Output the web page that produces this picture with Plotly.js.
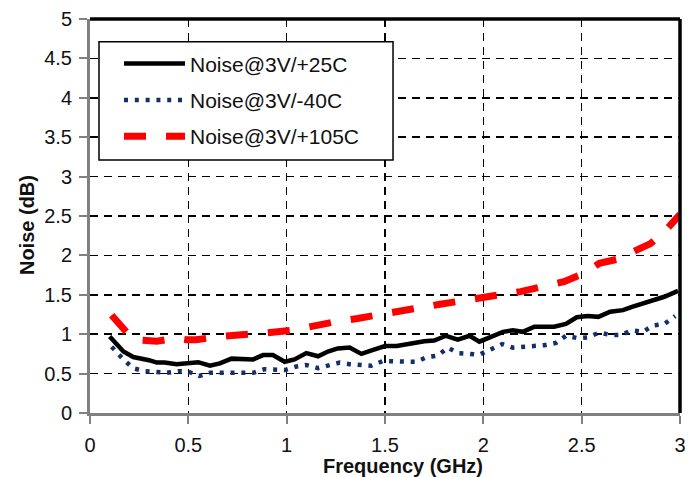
<!DOCTYPE html>
<html>
<head>
<meta charset="utf-8">
<script src="https://cdn.plot.ly/plotly-3.0.1.min.js"></script>
<style>html,body{margin:0;padding:0;background:#fff;}#chart{width:697px;height:477px;}</style>
</head>
<body>
<div id="chart"></div>
<script>
// ---- data ----
const seriesNames = ["Noise@3V/+25C", "Noise@3V/-40C", "Noise@3V/+105C"];

const freq25 = [0.10,0.17,0.22,0.25,0.30,0.34,0.38,0.44,0.49,0.55,0.61,0.66,0.72,0.77,0.83,0.88,0.93,0.99,1.04,1.10,1.16,1.21,1.26,1.32,1.38,1.44,1.50,1.56,1.645,1.70,1.75,1.81,1.87,1.93,1.98,2.04,2.10,2.15,2.20,2.26,2.31,2.36,2.42,2.475,2.53,2.585,2.645,2.71,2.76,2.83,2.88,2.92,2.99];
const noise25 = [0.97,0.78,0.71,0.70,0.67,0.64,0.64,0.62,0.63,0.645,0.60,0.63,0.69,0.68,0.68,0.735,0.735,0.65,0.68,0.76,0.72,0.78,0.82,0.83,0.75,0.80,0.85,0.85,0.89,0.91,0.92,0.98,0.93,0.98,0.905,0.97,1.03,1.05,1.03,1.095,1.095,1.095,1.13,1.215,1.23,1.22,1.285,1.305,1.35,1.41,1.44,1.475,1.55];

const freqM40 = [0.11,0.15,0.17,0.22,0.28,0.34,0.39,0.45,0.50,0.555,0.61,0.66,0.72,0.77,0.83,0.885,0.94,0.99,1.05,1.10,1.16,1.21,1.27,1.32,1.38,1.43,1.49,1.55,1.60,1.66,1.71,1.77,1.82,1.87,1.93,1.98,2.04,2.096,2.15,2.20,2.26,2.31,2.37,2.42,2.48,2.53,2.59,2.645,2.70,2.755,2.81,2.865,2.92,2.976];
const noiseM40 = [0.84,0.72,0.68,0.567,0.53,0.52,0.51,0.53,0.525,0.47,0.51,0.51,0.51,0.51,0.51,0.555,0.555,0.545,0.59,0.61,0.57,0.60,0.64,0.62,0.61,0.60,0.66,0.66,0.66,0.65,0.707,0.73,0.83,0.76,0.75,0.74,0.81,0.875,0.83,0.84,0.85,0.86,0.89,0.98,0.95,0.96,1.02,0.99,0.99,1.05,1.03,1.11,1.13,1.23];

const freq105 = [0.11,0.17,0.22,0.34,0.44,0.49,0.54,0.66,0.73,0.865,1.03,1.15,1.25,1.36,1.475,1.63,1.78,1.93,1.99,2.085,2.19,2.305,2.41,2.51,2.59,2.68,2.76,2.85,2.92,3.0];
const noise105 = [1.24,1.075,0.93,0.91,0.95,0.93,0.93,0.97,0.99,1.01,1.05,1.12,1.16,1.20,1.24,1.316,1.38,1.43,1.45,1.50,1.54,1.595,1.667,1.77,1.90,1.95,2.05,2.15,2.30,2.52];

const xTickVals = [0,0.5,1,1.5,2,2.5,3];
const yTickVals = [0,0.5,1,1.5,2,2.5,3,3.5,4,4.5,5];
const xTitle = "Frequency (GHz)";
const yTitle = "Noise (dB)";

// ---- chart ----
const FONT = "Liberation Sans, Arial, sans-serif";
const traces = [
  {x: freq25, y: noise25, name: seriesNames[0], legendgroup: "a", mode: "lines",
   line: {color: "#000000", width: 4.5}},
  {x: freqM40, y: noiseM40, name: seriesNames[1], legendgroup: "b", mode: "lines",
   line: {color: "#14306a", width: 4.5, dash: "4px,6.8px"}},
  {x: freq105, y: noise105, name: seriesNames[2], legendgroup: "c", mode: "lines",
   line: {color: "#ff0000", width: 7, dash: "22px,20px"}}
];

const axisCommon = {
  showline: true, linecolor: "#808080", linewidth: 3,
  ticks: "outside", ticklen: 8, tickwidth: 2, tickcolor: "#808080",
  showgrid: true, gridcolor: "#000000", gridwidth: 1.5, griddash: "8px,6px",
  zeroline: false, tickfont: {family: FONT, size: 20, color: "#111"},
  fixedrange: true
};

const layout = {
  width: 697, height: 477,
  margin: {l: 90, r: 17, t: 19, b: 64, pad: 0},
  paper_bgcolor: "#ffffff", plot_bgcolor: "#ffffff",
  font: {family: FONT, color: "#111"},
  showlegend: true,
  xaxis: Object.assign({}, axisCommon, {range: [0, 3], tickvals: xTickVals, ticklabelstandoff: 4}),
  yaxis: Object.assign({}, axisCommon, {range: [0, 5], tickvals: yTickVals, ticklabelstandoff: 3}),
  legend: {
    x: 0.0492, y: 0.938, xanchor: "left", yanchor: "top",
    bgcolor: "rgba(0,0,0,0)", borderwidth: 0,
    font: {family: FONT, size: 21, color: "#111"},
    traceorder: "grouped", tracegroupgap: 6, itemwidth: 61
  },
  shapes: [
    {type: "line", xref: "paper", yref: "paper", x0: 0, x1: 1, y0: 1, y1: 1, line: {color: "#000", width: 3.5}},
    {type: "line", xref: "paper", yref: "paper", x0: 1, x1: 1, y0: 0, y1: 1, line: {color: "#000", width: 3.5}},
    {type: "rect", xref: "paper", yref: "paper", x0: 0.01525, x1: 0.5136, y0: 0.6421, y1: 0.9424,
     fillcolor: "#ffffff", line: {color: "#000", width: 1.5}, layer: "above"}
  ],
  annotations: [
    {text: xTitle, xref: "paper", yref: "paper", x: 0.5305, y: -0.134, xanchor: "center", yanchor: "middle",
     showarrow: false, font: {family: FONT, size: 20, color: "#111", weight: 700}},
    {text: yTitle, xref: "paper", yref: "paper", x: -0.1068, y: 0.477, xanchor: "center", yanchor: "middle",
     textangle: -90, showarrow: false, font: {family: FONT, size: 20, color: "#111", weight: 700}}
  ]
};

Plotly.newPlot("chart", traces, layout, {displayModeBar: false, staticPlot: true});
</script>
</body>
</html>
